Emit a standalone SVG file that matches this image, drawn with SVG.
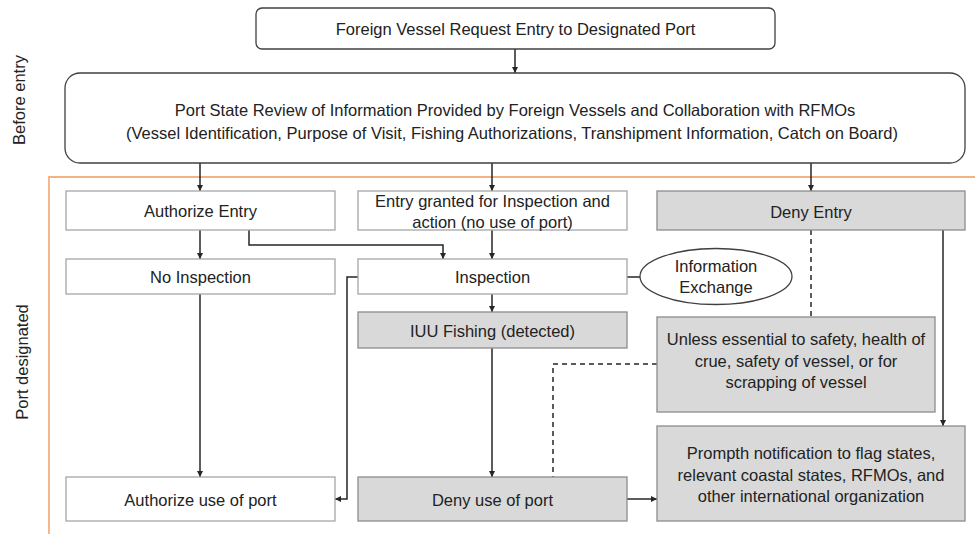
<svg xmlns="http://www.w3.org/2000/svg" width="975" height="534" viewBox="0 0 975 534">
<style>
text{font-family:"Liberation Sans",Arial,sans-serif;font-size:16.5px;fill:#222;text-anchor:middle}
.rb{fill:#fff;stroke:#404040;stroke-width:1.3}
.bx{fill:#fff;stroke:#a6a6a6;stroke-width:1.3}
.gb{fill:#d9d9d9;stroke:#8c8c8c;stroke-width:1.3}
.c{fill:none;stroke:#262626;stroke-width:1.5}
.d{fill:none;stroke:#262626;stroke-width:1.5;stroke-dasharray:5,4}
.fr{fill:none;stroke:#f4b183;stroke-width:1.8}
</style>
<defs>
<marker id="ah" viewBox="0 0 10 10" refX="10" refY="5" markerWidth="4" markerHeight="4" orient="auto"><path d="M0,0 L10,5 L0,10 z" fill="#262626"/></marker>
</defs>
<rect width="975" height="534" fill="#fff"/>
<g id="lanes">
<path class="fr" d="M49,534 V177 H975"/>
<text transform="translate(25,100) rotate(-90)">Before entry</text>
<text transform="translate(28,362) rotate(-90)">Port designated</text>
</g>
<g id="connectors">
<path class="c" d="M515,49 V73" marker-end="url(#ah)"/>
<path class="c" d="M200,163 V191" marker-end="url(#ah)"/>
<path class="c" d="M492,163 V191" marker-end="url(#ah)"/>
<path class="c" d="M811,163 V191" marker-end="url(#ah)"/>
<path class="c" d="M200,230 V259" marker-end="url(#ah)"/>
<path class="c" d="M249,230 V245 H443 V259" marker-end="url(#ah)"/>
<path class="c" d="M492,230 V259" marker-end="url(#ah)"/>
<path class="c" d="M627,277 H640"/>
<path class="c" d="M492,294 V312" marker-end="url(#ah)"/>
<path class="c" d="M358,277 H347 V499 H335" marker-end="url(#ah)"/>
<path class="c" d="M200,294 V477" marker-end="url(#ah)"/>
<path class="c" d="M492,348 V477" marker-end="url(#ah)"/>
<path class="d" d="M811,230 V317"/>
<path class="d" d="M657,364 H553 V477"/>
<path class="c" d="M943,230 V426" marker-end="url(#ah)"/>
<path class="c" d="M627,499 H657" marker-end="url(#ah)"/>
</g>
<g id="request">
<rect class="rb" x="256" y="8" width="519" height="41" rx="6"/>
<text x="515.5" y="35">Foreign Vessel Request Entry to Designated Port</text>
</g>
<g id="review">
<rect class="rb" x="65" y="73" width="900" height="90" rx="15"/>
<text x="515" y="116">Port State Review of Information Provided by Foreign Vessels and Collaboration with RFMOs</text>
<text x="512" y="139">(Vessel Identification, Purpose of Visit, Fishing Authorizations, Transhipment Information, Catch on Board)</text>
</g>
<g id="authorize-entry">
<rect class="bx" x="66" y="191" width="269" height="39"/>
<text x="200.5" y="217">Authorize Entry</text>
</g>
<g id="entry-granted">
<rect class="bx" x="358" y="191" width="269" height="39"/>
<text x="492.5" y="207">Entry granted for Inspection and</text>
<text x="492.5" y="228">action (no use of port)</text>
</g>
<g id="deny-entry">
<rect class="gb" x="657" y="191" width="308" height="39"/>
<text x="811" y="218">Deny Entry</text>
</g>
<g id="no-inspection">
<rect class="bx" x="66" y="259" width="269" height="35"/>
<text x="200.5" y="283">No Inspection</text>
</g>
<g id="inspection">
<rect class="bx" x="358" y="259" width="269" height="35"/>
<text x="492.5" y="283">Inspection</text>
</g>
<g id="info-exchange">
<ellipse cx="716" cy="276.5" rx="76" ry="28" fill="#fff" stroke="#404040" stroke-width="1.3"/>
<text x="716" y="272">Information</text>
<text x="716" y="293">Exchange</text>
</g>
<g id="iuu">
<rect class="gb" x="358" y="312" width="269" height="36"/>
<text x="492.5" y="337">IUU Fishing (detected)</text>
</g>
<g id="unless">
<rect class="gb" x="657" y="317" width="278" height="95"/>
<text x="796" y="345">Unless essential to safety, health of</text>
<text x="796" y="367">crue, safety of vessel, or for</text>
<text x="796" y="388">scrapping of vessel</text>
</g>
<g id="authorize-use">
<rect class="bx" x="66" y="477" width="269" height="44"/>
<text x="200.5" y="506">Authorize use of port</text>
</g>
<g id="deny-use">
<rect class="gb" x="358" y="477" width="269" height="44"/>
<text x="492.5" y="506">Deny use of port</text>
</g>
<g id="notification">
<rect class="gb" x="657" y="426" width="308" height="95"/>
<text x="811" y="459">Prompth notification to flag states,</text>
<text x="811" y="481">relevant coastal states, RFMOs, and</text>
<text x="811" y="502">other international organization</text>
</g>
</svg>
